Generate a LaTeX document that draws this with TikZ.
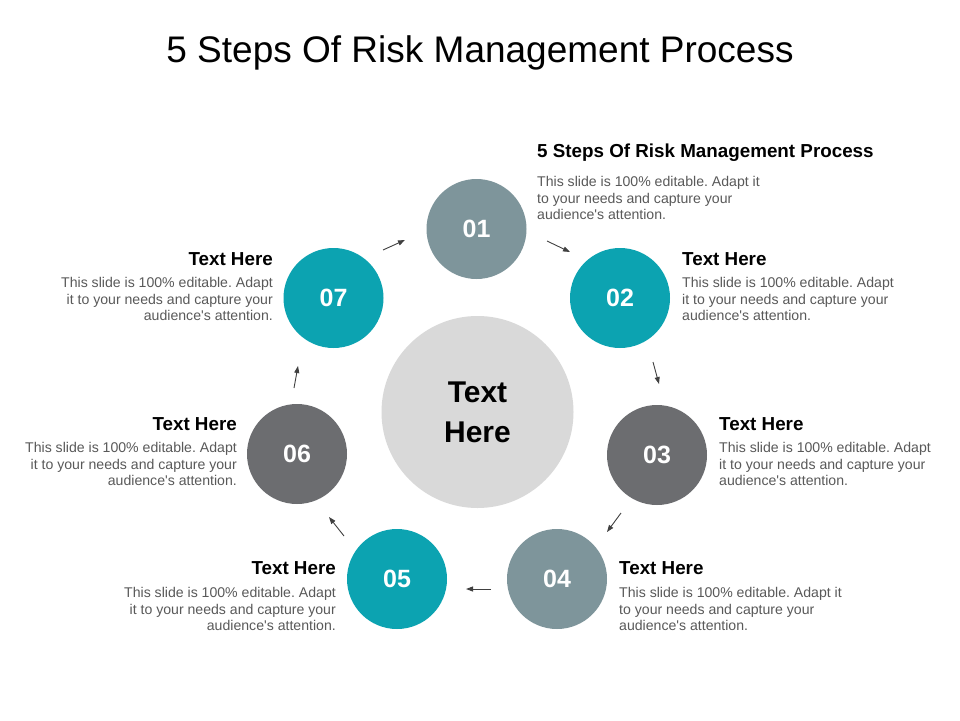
\documentclass[tikz,border=0pt]{standalone}
\usepackage{fontspec}
\setmainfont{Liberation Sans}
\usetikzlibrary{arrows.meta}
\definecolor{cgb}{HTML}{7E959B}
\definecolor{cteal}{HTML}{0CA3B1}
\definecolor{cdg}{HTML}{6C6D70}
\definecolor{ccen}{HTML}{D9D9D9}
\definecolor{cbody}{HTML}{595959}
\definecolor{carr}{HTML}{404040}
\frenchspacing
\newcommand{\aq}{\textquotesingle}
\begin{document}
\begin{tikzpicture}[x=1pt,y=-1pt,
  num/.style={circle, minimum size=100pt, inner sep=0pt, text=white, font=\fontsize{25}{30}\selectfont\bfseries},
  head/.style={inner sep=0pt, font=\fontsize{18.8}{22}\selectfont\bfseries, text=black},
  body/.style={inner sep=0pt, font=\fontsize{14.1}{16.8}\selectfont, text=cbody},
  arr/.style={draw=carr, line width=0.9pt, -{Triangle[length=7pt,width=5pt]}}]
\useasboundingbox (0,0) rectangle (960,720);
\fill[white] (0,0) rectangle (960,720);
% title
\node[anchor=base, inner sep=0pt, font=\fontsize{37}{44}\selectfont] (title) at (480,62) {5 Steps Of Risk Management Process};
% circles
\node[circle, fill=ccen, minimum size=192pt, inner sep=0pt, align=center, font=\fontsize{30}{40}\selectfont\bfseries] (cen) at (477.5,412) {Text\\Here};
\node[num, fill=cgb]   (c01) at (476.5,229) {01};
\node[num, fill=cteal] (c02) at (620,298) {02};
\node[num, fill=cdg]   (c03) at (657,455) {03};
\node[num, fill=cgb]   (c04) at (557,579) {04};
\node[num, fill=cteal] (c05) at (397,579) {05};
\node[num, fill=cdg]   (c06) at (297,454) {06};
\node[num, fill=cteal] (c07) at (333.5,298) {07};
% texts
\node[head, anchor=west] (h01) at (537,153) {5 Steps Of Risk Management Process};
\node[body, anchor=west, align=left] (b01) at (537,198) {This slide is 100\% editable. Adapt it\\to your needs and capture your\\audience\aq s attention.};
\node[head, anchor=west] (h02) at (682,259) {Text Here};
\node[body, anchor=west, align=left] (b02) at (682,299) {This slide is 100\% editable. Adapt\\it to your needs and capture your\\audience\aq s attention.};
\node[head, anchor=west] (h03) at (719,424) {Text Here};
\node[body, anchor=west, align=left] (b03) at (719,464) {This slide is 100\% editable. Adapt\\it to your needs and capture your\\audience\aq s attention.};
\node[head, anchor=west] (h04) at (619,568) {Text Here};
\node[body, anchor=west, align=left] (b04) at (619,609) {This slide is 100\% editable. Adapt it\\to your needs and capture your\\audience\aq s attention.};
\node[head, anchor=east] (h05) at (336,568) {Text Here};
\node[body, anchor=east, align=right] (b05) at (336,609) {This slide is 100\% editable. Adapt\\it to your needs and capture your\\audience\aq s attention.};
\node[head, anchor=east] (h06) at (237,424) {Text Here};
\node[body, anchor=east, align=right] (b06) at (237,464) {This slide is 100\% editable. Adapt\\it to your needs and capture your\\audience\aq s attention.};
\node[head, anchor=east] (h07) at (273,259) {Text Here};
\node[body, anchor=east, align=right] (b07) at (273,299) {This slide is 100\% editable. Adapt\\it to your needs and capture your\\audience\aq s attention.};
% arrows
\coordinate (a1s) at (383,250); \coordinate (a1e) at (405,240);
\coordinate (a2s) at (547,241); \coordinate (a2e) at (570,252);
\coordinate (a3s) at (653,362); \coordinate (a3e) at (659,384);
\coordinate (a4s) at (621,513); \coordinate (a4e) at (607,532);
\coordinate (a5s) at (491,589); \coordinate (a5e) at (466,589);
\coordinate (a6s) at (344,536); \coordinate (a6e) at (329,517);
\coordinate (a7s) at (294,388); \coordinate (a7e) at (298,366);
\draw[arr] (a1s) -- (a1e);
\draw[arr] (a2s) -- (a2e);
\draw[arr] (a3s) -- (a3e);
\draw[arr] (a4s) -- (a4e);
\draw[arr] (a5s) -- (a5e);
\draw[arr] (a6s) -- (a6e);
\draw[arr] (a7s) -- (a7e);
\end{tikzpicture}
\end{document}
